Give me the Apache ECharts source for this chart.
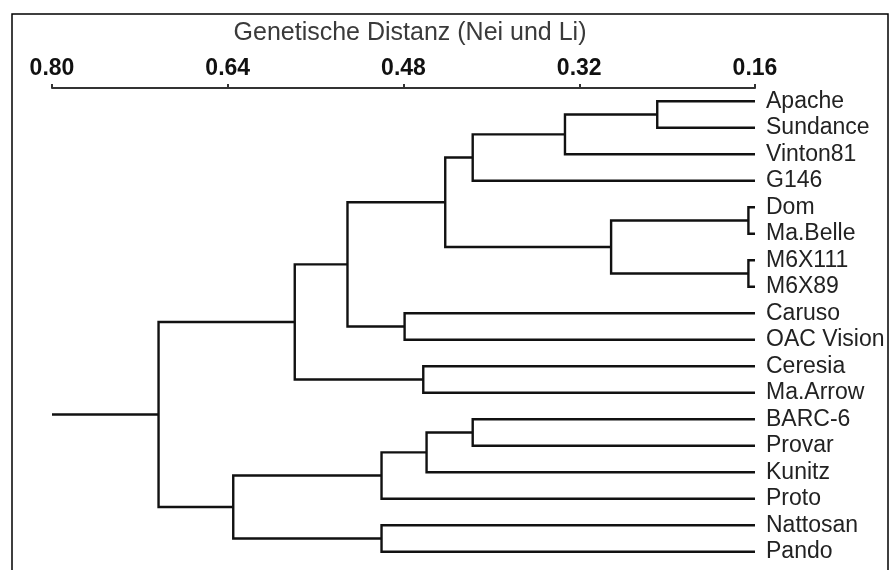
<!DOCTYPE html>
<html>
<head>
<meta charset="utf-8">
<script src="https://cdn.jsdelivr.net/npm/echarts@6/dist/echarts.min.js"></script>
<style>
  html, body { margin: 0; padding: 0; background: #fff; }
  #chart { width: 895px; height: 570px; }
</style>
</head>
<body>
<div id="chart"></div>
<script>
// Blattnamen (von oben nach unten)
const leaves = ['Apache', 'Sundance', 'Vinton81', 'G146', 'Dom', 'Ma.Belle', 'M6X111', 'M6X89',
  'Caruso', 'OAC Vision', 'Ceresia', 'Ma.Arrow', 'BARC-6', 'Provar', 'Kunitz', 'Proto', 'Nattosan', 'Pando'];

// Verknuepfungen: Index < 18 = Blatt, sonst Cluster 18 + Zeile
const mergeLeft = [0, 18, 19, 4, 6, 21, 20, 8, 24, 10, 26, 12, 29, 30, 16, 31, 28];
const mergeRight = [1, 2, 3, 5, 7, 22, 23, 9, 25, 11, 27, 13, 14, 15, 17, 32, 33];
const mergeHeight = [0.249, 0.333, 0.417, 0.166, 0.166, 0.291, 0.442, 0.479, 0.531, 0.462, 0.579,
  0.417, 0.459, 0.500, 0.500, 0.635, 0.703];

const leafHeight = 0.16;
const rootHeight = 0.80;

// Knoten-Positionen berechnen (x = Distanz, y = Zeile)
const nodeX = leaves.map(() => leafHeight);
const nodeY = leaves.map((d, i) => i);
const segments = [];
mergeLeft.forEach((a, i) => {
  const b = mergeRight[i];
  const h = mergeHeight[i];
  segments.push([nodeX[a], nodeY[a], h, nodeX[b], nodeY[b]]);
  nodeX.push(h);
  nodeY.push((nodeY[a] + nodeY[b]) / 2);
});
const root = nodeX.length - 1;
segments.push([nodeX[root], nodeY[root], rootHeight, rootHeight, nodeY[root]]);

const chart = echarts.init(document.getElementById('chart'));

chart.setOption({
  backgroundColor: '#fff',
  animation: false,
  graphic: [{
    type: 'rect',
    shape: { x: 12, y: 14, width: 876, height: 600 },
    style: { fill: 'none', stroke: '#000', lineWidth: 1.5 },
    silent: true
  }],
  grid: {
    left: 52,
    right: 140,
    top: 88,
    bottom: 5
  },
  xAxis: {
    type: 'value',
    position: 'top',
    inverse: true,
    min: 0.16,
    max: 0.80,
    interval: 0.16,
    name: 'Genetische Distanz (Nei und Li)',
    nameLocation: 'middle',
    nameGap: 42,
    nameTextStyle: {
      fontFamily: 'Liberation Sans, Arial, sans-serif',
      fontSize: 25,
      color: '#3a3a3a',
      padding: [0, 0, 0, 13]
    },
    axisLine: { show: true, onZero: false, lineStyle: { color: '#333', width: 2 } },
    axisTick: { show: true, length: 4, lineStyle: { color: '#333', width: 2 } },
    axisLabel: {
      margin: 8,
      fontFamily: 'Liberation Sans, Arial, sans-serif',
      fontWeight: 'bold',
      fontSize: 23,
      color: '#111',
      formatter: function (v) { return v.toFixed(2); }
    },
    splitLine: { show: false }
  },
  yAxis: {
    type: 'value',
    position: 'right',
    inverse: true,
    min: -0.5,
    max: leaves.length - 0.5,
    axisLine: { show: false },
    axisTick: { show: false },
    splitLine: { show: false },
    axisLabel: {
      margin: 11,
      fontFamily: 'Liberation Sans, Arial, sans-serif',
      fontSize: 23,
      color: '#222',
      customValues: leaves.map((d, i) => i),
      formatter: function (v) { return leaves[v] || ''; }
    }
  },
  series: [{
    type: 'custom',
    clip: false,
    encode: { x: [0, 2, 3], y: [1, 4] },
    data: segments,
    renderItem: function (params, api) {
      const pa = api.coord([api.value(0), api.value(1)]);
      const pc1 = api.coord([api.value(2), api.value(1)]);
      const pc2 = api.coord([api.value(2), api.value(4)]);
      const pb = api.coord([api.value(3), api.value(4)]);
      return {
        type: 'polyline',
        shape: { points: [pa, pc1, pc2, pb] },
        style: { stroke: '#111', lineWidth: 2.4, fill: 'none', lineJoin: 'miter' }
      };
    }
  }]
});
</script>
</body>
</html>
